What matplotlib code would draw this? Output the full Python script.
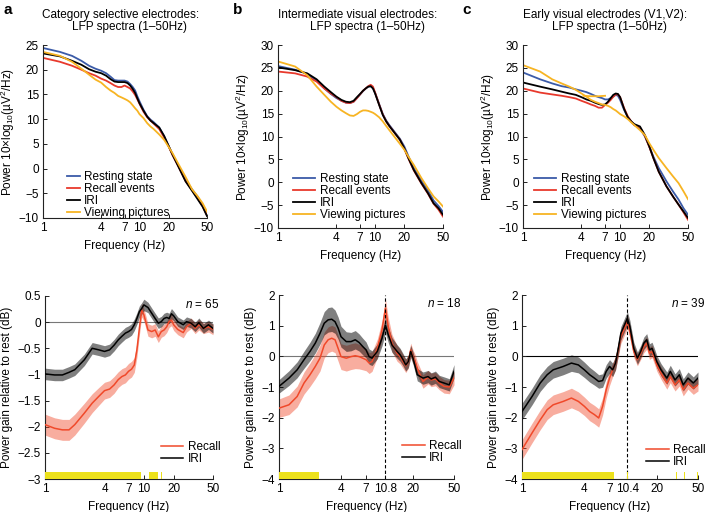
import numpy as np
import matplotlib
matplotlib.use('Agg')
import matplotlib.pyplot as plt

plt.rcParams['font.family'] = ['Liberation Sans', 'DejaVu Sans']
plt.rcParams['mathtext.fontset'] = 'custom'
plt.rcParams['mathtext.rm'] = 'Liberation Sans'
plt.rcParams['mathtext.it'] = 'Liberation Sans:italic'
plt.rcParams['font.size'] = 8.5

# ---- 上排: LFP 功率谱 ----
f_top = [1, 1.5, 2, 2.5, 3, 3.5, 4, 4.5, 5, 5.5, 6, 6.5, 7, 7.5, 8, 8.5, 9, 9.5,
         10, 11, 12, 13, 14, 16, 18, 20, 22, 25, 30, 35, 40, 45, 50]

# a: Category selective electrodes
a_rest = [24.4, 23.6, 22.8, 21.8, 20.8, 20.2, 19.8, 19.3, 18.6, 17.9, 17.8, 17.8, 17.8, 17.6, 17.1, 16.5, 15.8, 14.6,
          13.6, 11.9, 10.6, 9.9, 9.4, 8.3, 6.5, 4.6, 2.8, 0.7, -2.3, -4.2, -5.7, -7.4, -9.4]
a_recall = [22.4, 21.6, 20.8, 20.0, 19.3, 18.8, 18.2, 17.8, 17.3, 16.8, 16.5, 16.5, 16.8, 16.5, 16.2, 15.6, 14.9, 14.0,
            13.1, 11.5, 10.4, 9.7, 9.1, 8.0, 6.3, 4.5, 2.7, 0.6, -2.5, -4.4, -6.0, -7.6, -9.5]
a_iri = [23.3, 22.7, 21.8, 21.0, 20.1, 19.6, 19.3, 18.8, 18.1, 17.6, 17.5, 17.5, 17.5, 17.3, 16.8, 16.1, 15.3, 14.2,
         13.2, 11.7, 10.5, 9.7, 9.2, 8.3, 6.6, 4.6, 2.8, 0.6, -2.6, -4.5, -6.2, -7.7, -9.6]
a_view = [23.6, 22.8, 21.6, 20.2, 19.0, 18.0, 17.4, 16.5, 15.8, 15.3, 14.7, 14.4, 14.1, 13.8, 13.4, 12.8, 12.2, 11.7,
          11.0, 10.2, 9.2, 8.5, 8.0, 6.9, 5.8, 4.4, 3.1, 1.1, -1.7, -4.2, -5.6, -7.0, -8.7]

# b: Intermediate visual electrodes
b_rest = [25.4, 24.6, 23.7, 22.2, 20.5, 19.3, 18.4, 17.8, 17.4, 17.3, 17.6, 18.4, 19.2, 19.9, 20.5, 20.9, 21.0, 20.6,
          19.5, 17.1, 14.9, 13.5, 12.5, 10.9, 9.5, 7.8, 5.7, 3.1, 0.3, -1.8, -4.0, -5.2, -6.5]
b_recall = [24.2, 23.8, 23.1, 22.0, 20.5, 19.4, 18.6, 17.8, 17.4, 17.3, 17.6, 18.4, 19.2, 20.0, 20.5, 21.0, 21.3, 20.9,
            19.6, 17.0, 14.8, 13.3, 12.3, 10.7, 9.3, 7.3, 5.2, 2.6, -0.3, -2.5, -4.7, -6.0, -7.5]
b_iri = [25.1, 24.5, 23.8, 22.5, 20.9, 19.7, 18.7, 18.0, 17.6, 17.5, 17.8, 18.6, 19.3, 20.0, 20.5, 20.9, 21.0, 20.5,
         19.4, 16.9, 14.7, 13.3, 12.3, 10.7, 9.3, 7.4, 5.3, 2.7, -0.2, -2.4, -4.6, -5.7, -7.1]
b_view = [26.4, 25.3, 23.4, 20.9, 19.1, 17.6, 16.5, 15.7, 15.1, 14.6, 14.5, 14.9, 15.4, 15.7, 15.7, 15.6, 15.4, 15.2,
          14.9, 14.2, 13.3, 12.3, 11.4, 9.8, 8.4, 7.1, 5.6, 3.8, 0.9, -1.3, -3.1, -4.2, -5.3]

# c: Early visual electrodes (V1,V2)
c_rest = [24.0, 22.5, 21.6, 21.0, 20.7, 20.3, 20.0, 19.7, 19.3, 18.9, 18.6, 18.4, 18.1, 18.1, 18.4, 18.7, 19.1, 18.9,
          18.0, 15.8, 14.2, 13.3, 12.5, 11.8, 10.0, 7.8, 5.6, 3.1, 0.2, -2.0, -3.8, -5.7, -7.1]
c_recall = [20.5, 19.6, 19.2, 18.9, 18.6, 18.3, 17.8, 17.4, 17.0, 16.7, 16.3, 16.3, 16.9, 17.4, 18.0, 18.7, 19.2, 19.2,
            18.6, 16.2, 14.4, 13.3, 12.5, 12.0, 10.1, 7.7, 5.3, 2.3, -0.9, -3.1, -4.9, -6.6, -8.2]
c_iri = [21.8, 20.9, 20.3, 19.8, 19.4, 19.1, 18.6, 18.1, 17.8, 17.4, 17.1, 16.9, 17.0, 17.6, 18.4, 19.1, 19.4, 19.3,
         18.6, 16.0, 14.2, 13.3, 12.7, 12.2, 10.3, 7.8, 5.3, 2.3, -0.9, -3.1, -4.9, -6.4, -7.8]
c_view = [25.6, 24.2, 22.5, 21.6, 20.9, 20.2, 19.4, 18.7, 18.0, 17.6, 17.3, 17.0, 16.9, 16.7, 16.4, 16.0, 15.7, 15.3,
          14.9, 14.4, 13.8, 13.1, 12.5, 11.4, 10.3, 8.5, 7.1, 5.3, 3.1, 1.3, -0.2, -2.0, -3.7]
c_view_extra_f = [4.2, 5, 6, 7]
c_view_extra = [18.9, 18.8, 18.8, 18.9]

# ---- 下排: 相对静息的功率增益 ----
fa = [1, 1.25, 1.5, 1.75, 2, 2.5, 3, 3.5, 4, 4.5, 5, 5.5, 6, 6.5, 7, 7.5, 8, 8.5, 9, 9.5,
      10, 11, 12, 13, 14, 15, 16, 17, 18, 19, 20, 22, 25, 27, 30, 33, 36, 40, 45, 50]
a_iri_gain = [-0.99, -1.01, -1.01, -0.96, -0.91, -0.72, -0.50, -0.53, -0.56, -0.53, -0.44, -0.34, -0.27, -0.21,
              -0.18, -0.14, -0.05, 0.07, 0.20, 0.26, 0.33, 0.28, 0.17, 0.07, -0.02, 0.01, 0.07, 0.09, 0.07, 0.16,
              0.12, 0.01, -0.05, 0.01, -0.02, -0.09, -0.01, -0.12, -0.05, -0.12]
a_iri_sem = [0.11, 0.11, 0.11, 0.11, 0.11, 0.11, 0.11, 0.11, 0.11, 0.11, 0.11, 0.11, 0.11, 0.11,
             0.11, 0.11, 0.11, 0.11, 0.11, 0.11, 0.11, 0.1, 0.1, 0.1, 0.1, 0.1, 0.1, 0.1, 0.1, 0.1,
             0.09, 0.09, 0.09, 0.09, 0.09, 0.09, 0.09, 0.09, 0.09, 0.09]
a_rec_gain = [-1.96, -2.03, -2.06, -2.06, -1.96, -1.74, -1.55, -1.42, -1.31, -1.28, -1.20, -1.10, -1.04, -1.01,
              -0.94, -0.90, -0.82, -0.53, -0.12, 0.23, 0.14, -0.15, -0.18, -0.15, -0.28, -0.18, -0.15, -0.09,
              0.01, 0.04, -0.05, -0.14, -0.20, -0.09, -0.02, -0.12, -0.05, -0.12, -0.09, -0.14]
a_rec_sem = [0.2, 0.2, 0.2, 0.2, 0.2, 0.19, 0.18, 0.17, 0.16, 0.16, 0.16, 0.15, 0.15, 0.15,
             0.15, 0.15, 0.14, 0.14, 0.13, 0.13, 0.12, 0.12, 0.12, 0.12, 0.11, 0.11, 0.11, 0.11, 0.11, 0.11,
             0.11, 0.1, 0.1, 0.1, 0.1, 0.1, 0.1, 0.1, 0.1, 0.1]
a_sig = [(1, 9.4), (11.2, 14.0), (15.0, 15.3)]

fb = [1, 1.25, 1.5, 1.75, 2, 2.25, 2.5, 2.75, 3, 3.25, 3.5, 3.75, 4, 4.5, 5, 5.5, 6, 6.5, 7, 7.5, 8, 9,
      10, 10.8, 11.5, 12.5, 14, 15, 16, 17, 18, 19, 20, 21, 22, 25, 28, 30, 33, 36, 40, 45, 50]
b_iri_gain = [-0.98, -0.71, -0.44, -0.11, 0.16, 0.43, 0.75, 1.08, 1.19, 1.21, 1.13, 0.92, 0.64, 0.48, 0.48, 0.54,
              0.45, 0.32, 0.21, -0.01, -0.06, 0.16, 0.59, 1.02, 0.70, 0.37, 0.16, 0.05, -0.11, -0.28, -0.17, 0.16,
              -0.06, -0.33, -0.60, -0.71, -0.66, -0.74, -0.68, -0.82, -0.87, -0.93, -0.49]
b_iri_sem = [0.22, 0.24, 0.26, 0.28, 0.3, 0.32, 0.35, 0.38, 0.4, 0.4, 0.38, 0.36, 0.34, 0.32, 0.3, 0.3,
             0.28, 0.27, 0.26, 0.25, 0.24, 0.24, 0.25, 0.26, 0.25, 0.24, 0.22, 0.21, 0.2, 0.2, 0.2, 0.2,
             0.2, 0.2, 0.2, 0.2, 0.2, 0.2, 0.2, 0.2, 0.2, 0.2, 0.22]
b_rec_gain = [-1.69, -1.58, -1.31, -0.87, -0.60, -0.33, -0.06, 0.37, 0.54, 0.59, 0.54, 0.26, -0.01, -0.06, -0.01,
              0.02, -0.01, -0.06, -0.11, -0.22, -0.17, 0.26, 0.86, 1.57, 0.97, 0.43, 0.10, -0.01, -0.17, -0.31,
              -0.17, 0.21, -0.01, -0.17, -0.39, -0.82, -0.68, -0.77, -0.74, -0.87, -0.98, -1.00, -0.71]
b_rec_sem = [0.3, 0.32, 0.34, 0.36, 0.38, 0.4, 0.42, 0.42, 0.42, 0.42, 0.42, 0.42, 0.42, 0.42, 0.42, 0.42,
             0.4, 0.38, 0.36, 0.34, 0.32, 0.3, 0.3, 0.3, 0.3, 0.28, 0.26, 0.24, 0.22, 0.22, 0.22, 0.22,
             0.22, 0.22, 0.22, 0.22, 0.22, 0.22, 0.22, 0.22, 0.22, 0.22, 0.22]
b_sig = [(1, 2.45)]

fc = [1, 1.25, 1.5, 1.75, 2, 2.5, 3, 3.5, 4, 4.5, 5, 5.5, 6, 6.5, 7, 7.5, 8, 8.5, 9, 10.4,
      11, 12, 13, 14, 15, 16, 17, 18, 19, 20, 22, 25, 27, 30, 33, 36, 40, 45, 50]
c_iri_gain = [-1.80, -1.31, -0.87, -0.60, -0.44, -0.33, -0.22, -0.28, -0.44, -0.60, -0.71, -0.82, -0.79, -0.49,
              -0.33, -0.44, -0.22, 0.26, 0.75, 1.24, 0.97, 0.26, -0.06, 0.16, 0.43, 0.54, 0.21, 0.26, 0.05, -0.17,
              -0.44, -0.71, -0.49, -0.77, -0.60, -0.93, -0.71, -0.87, -0.71]
c_iri_sem = [0.27, 0.27, 0.27, 0.27, 0.27, 0.27, 0.27, 0.26, 0.25, 0.24, 0.23, 0.22, 0.22, 0.22,
             0.22, 0.22, 0.22, 0.22, 0.22, 0.22, 0.2, 0.2, 0.2, 0.2, 0.2, 0.2, 0.2, 0.2, 0.2, 0.2,
             0.2, 0.2, 0.2, 0.2, 0.2, 0.2, 0.2, 0.2, 0.2]
c_rec_gain = [-3.04, -2.50, -2.07, -1.74, -1.58, -1.47, -1.36, -1.47, -1.63, -1.80, -1.90, -2.01, -1.63, -1.09,
              -0.71, -0.44, -0.22, 0.21, 0.64, 1.13, 0.81, 0.16, -0.11, 0.10, 0.32, 0.43, 0.10, 0.16, -0.06, -0.28,
              -0.55, -0.87, -0.66, -0.93, -0.77, -1.09, -0.87, -1.04, -0.93]
c_rec_sem = [0.32, 0.32, 0.32, 0.32, 0.32, 0.32, 0.32, 0.31, 0.3, 0.3, 0.3, 0.3, 0.28, 0.26,
             0.24, 0.22, 0.22, 0.22, 0.22, 0.22, 0.2, 0.2, 0.2, 0.2, 0.2, 0.2, 0.2, 0.2, 0.2, 0.2,
             0.2, 0.2, 0.2, 0.2, 0.2, 0.2, 0.2, 0.2, 0.2]
c_sig = [(1, 7.8), (10.3, 10.45), (17.4, 17.7), (30.5, 31.5), (36.8, 37.5), (39.8, 40.3), (48.5, 50)]

titles = ['Category selective electrodes:', 'Intermediate visual electrodes:', 'Early visual electrodes (V1,V2):']
n_labels = ['65', '18', '39']
peak_freq = [None, 10.8, 10.4]

col_blue = '#3b5ba8'
col_red = '#e8392c'
col_yel = '#f7b423'
col_recall = '#f0492a'
col_sig = '#ece11c'

W, H = 706, 512
fig = plt.figure(figsize=(W / 100, H / 100), dpi=100)

# 轴的像素位置: 左, 上, 右, 下
top_pos = [[43, 45, 207, 218], [278, 45, 443, 228], [523, 45, 688, 228]]
bot_pos = [[45, 296, 213, 479], [279, 295, 454, 479], [522, 295, 698, 479]]
title1_x = [42, 278, 523]
title2_x = [130, 367, 609]
panel_x = [8, 238, 467]
leg_x = [67, 293, 534]
leg_hl = [1.1, 1.9, 1.9]
leg_top_bottom = [-1, 7, 7]   # 图例底边距x轴的像素


def make_ax(p):
    l, t, r, b = p
    return fig.add_axes([l / W, 1 - b / H, (r - l) / W, (b - t) / H])


def style_ax(ax):
    for s in ['top', 'right']:
        ax.spines[s].set_visible(False)
    for s in ['left', 'bottom']:
        ax.spines[s].set_linewidth(0.8)
        ax.spines[s].set_color('#222222')
    ax.set_xscale('log')
    ax.minorticks_off()
    ax.tick_params(direction='in', length=3, width=0.7, colors='#222222', labelcolor='black', pad=3)


top_data = [(a_rest, a_recall, a_iri, a_view), (b_rest, b_recall, b_iri, b_view), (c_rest, c_recall, c_iri, c_view)]
for i in range(3):
    ax = make_ax(top_pos[i])
    style_ax(ax)
    rest, rec, iri, view = top_data[i]
    ax.plot(f_top, rest, color=col_blue, lw=1.3, label='Resting state')
    ax.plot(f_top, rec, color=col_red, lw=1.3, label='Recall events')
    ax.plot(f_top, iri, color='black', lw=1.3, label='IRI')
    ax.plot(f_top, view, color=col_yel, lw=1.3, label='Viewing pictures')
    if i == 2:
        ax.plot(c_view_extra_f, c_view_extra, color=col_yel, lw=1.3)
    ax.set_xlim(1, 50)
    ax.set_xticks([1, 4, 7, 10, 20, 50])
    ax.set_xticklabels(['1', '4', '7', '10', '20', '50'])
    if i == 0:
        ax.set_ylim(-10, 25)
        yt = [25, 20, 15, 10, 5, 0, -5, -10]
    else:
        ax.set_ylim(-10, 30)
        yt = [30, 25, 20, 15, 10, 5, 0, -5, -10]
    ax.set_yticks(yt)
    ax.set_yticklabels([str(v).replace('-', '\u2212') for v in yt])
    ax.set_xlabel('Frequency (Hz)', labelpad=4)
    ax.set_ylabel('Power 10\u00d7log$_{10}$(\u00b5V$^2$/Hz)', labelpad=1)
    fig.text(title1_x[i] / W, 1 - 15 / H, titles[i], ha='left', va='center')
    fig.text(title2_x[i] / W, 1 - 27 / H, 'LFP spectra (1\u201350Hz)', ha='center', va='center')
    fig.text(panel_x[i] / W, 1 - 10 / H, 'abc'[i], ha='center', va='center', fontsize=11, fontweight='bold')
    l, t, r, b = top_pos[i]
    ax.legend(loc='lower left', bbox_to_anchor=((leg_x[i] - l) / (r - l), leg_top_bottom[i] / (b - t)),
              frameon=False, handlelength=leg_hl[i], handletextpad=0.35, labelspacing=0.0, borderpad=0,
              borderaxespad=0, fontsize=8.5)

bot_data = [(fa, a_rec_gain, a_rec_sem, a_iri_gain, a_iri_sem, a_sig),
            (fb, b_rec_gain, b_rec_sem, b_iri_gain, b_iri_sem, b_sig),
            (fc, c_rec_gain, c_rec_sem, c_iri_gain, c_iri_sem, c_sig)]
leg_bot_y = [0.075, 0.08, 0.06]
for i in range(3):
    ax = make_ax(bot_pos[i])
    style_ax(ax)
    f, rg, rs, ig, isem, sig = bot_data[i]
    f = np.array(f)
    rg, rs, ig, isem = map(np.array, (rg, rs, ig, isem))
    zero_col = 'black' if i == 2 else '#777777'
    ax.axhline(0, color=zero_col, lw=0.8, zorder=1)
    ax.fill_between(f, rg - rs, rg + rs, color=col_recall, alpha=0.45, lw=0, zorder=2)
    ax.fill_between(f, ig - isem, ig + isem, color='black', alpha=0.5, lw=0, zorder=3)
    ax.plot(f, rg, color=col_recall, lw=1.1, label='Recall', zorder=4)
    ax.plot(f, ig, color='black', lw=1.1, label='IRI', zorder=5)
    if peak_freq[i] is not None:
        ax.axvline(peak_freq[i], color='black', lw=0.8, ls=(0, (3, 2)), zorder=6)
    if i == 0:
        ax.set_ylim(-3, 0.5)
        yt = [0.5, 0, -0.5, -1, -1.5, -2, -2.5, -3]
        bar_h = 0.037
    else:
        ax.set_ylim(-4, 2)
        yt = [2, 1, 0, -1, -2, -3, -4]
        bar_h = 0.04
    for lo, hi in sig:
        ax.axvspan(lo, hi, ymin=0, ymax=bar_h, color=col_sig, lw=0, zorder=7)
    ax.set_yticks(yt)
    ax.set_yticklabels([('%g' % v).replace('-', '\u2212') for v in yt])
    ax.set_xlim(1, 50)
    if peak_freq[i] is None:
        xt = [1, 4, 7, 10, 20, 50]
    else:
        xt = [1, 4, 7, peak_freq[i], 20, 50]
    ax.set_xticks(xt)
    ax.set_xticklabels(['%g' % v for v in xt])
    ax.set_xlabel('Frequency (Hz)', labelpad=4)
    ax.set_ylabel('Power gain relative to rest (dB)', labelpad=3)
    ax.text(1.04, 0.955, '$n$ = ' + n_labels[i], transform=ax.transAxes, ha='right', va='center')
    ax.legend(loc='lower right', bbox_to_anchor=(1.045, leg_bot_y[i]), frameon=False, handlelength=1.9,
              handletextpad=0.4, labelspacing=0.0, borderpad=0, borderaxespad=0, fontsize=8.5)

fig.savefig('out.png', dpi=100)
